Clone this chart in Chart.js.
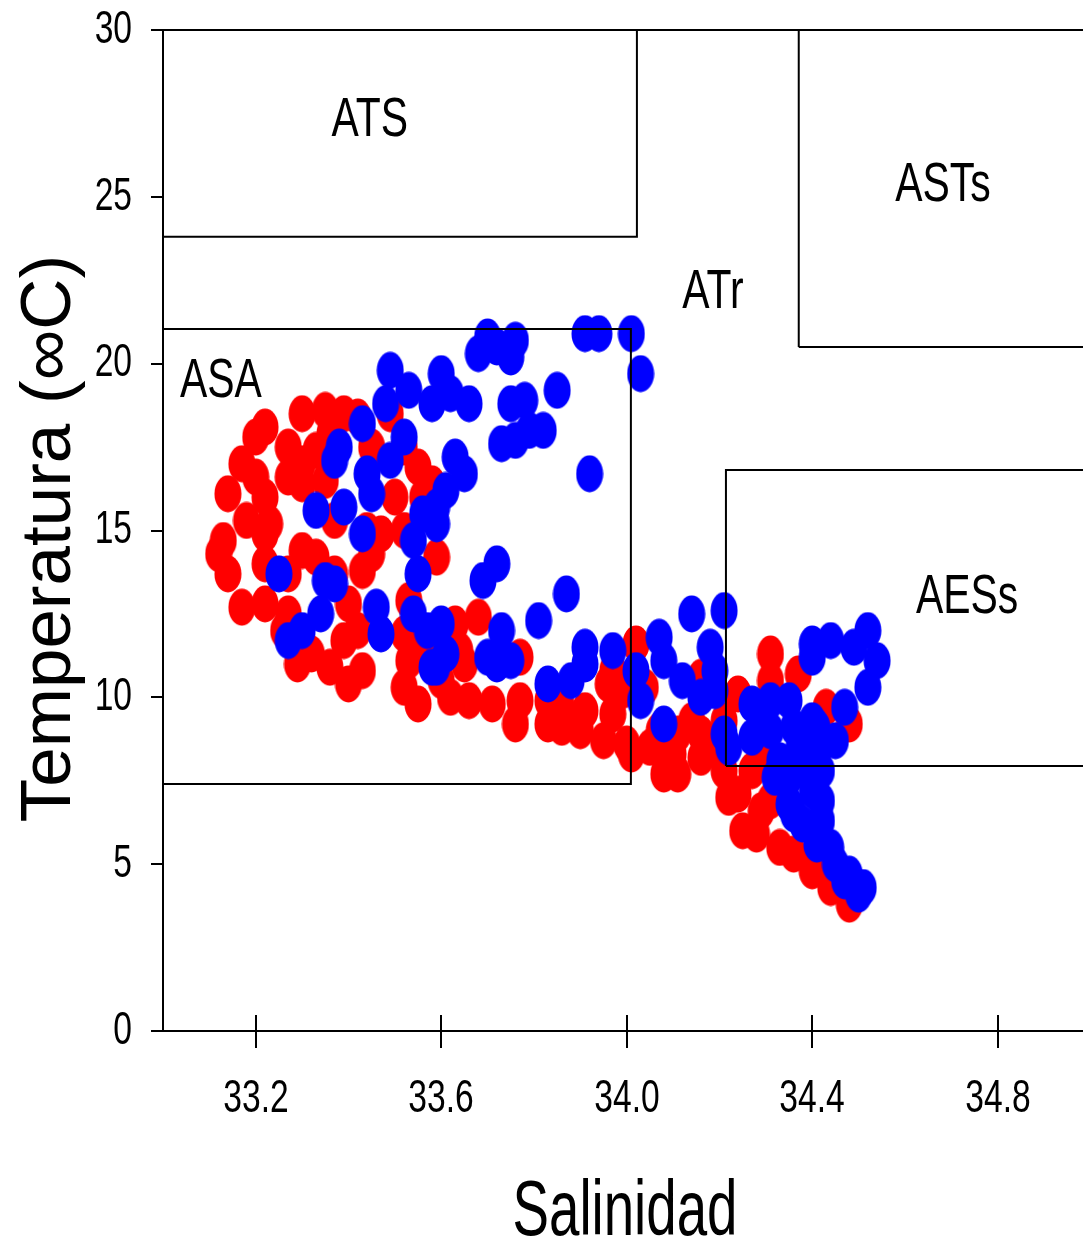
<!DOCTYPE html>
<html>
<head>
<meta charset="utf-8">
<title>Diagrama T-S</title>
<script src="https://cdn.jsdelivr.net/npm/chart.js@4.4.0/dist/chart.umd.min.js"></script>
<style>
  html, body { margin: 0; padding: 0; background: #fff; }
  canvas { display: block; }
</style>
</head>
<body>
<canvas id="ts" width="1083" height="1238"></canvas>
<script>
const sans = '"Liberation Sans", Arial, sans-serif'

const xTicks = [33.2, 33.6, 34.0, 34.4, 34.8]
const yTicks = [0, 5, 10, 15, 20, 25, 30]

// estación A (rojo)
const redSalinity = [
  33.22, 33.20, 33.17, 33.14, 33.30, 33.35, 33.27, 33.27, 33.30, 33.22,
  33.20, 33.36, 33.42, 33.45, 33.49, 33.52, 33.50, 33.55, 33.56, 33.58,
  33.39, 33.23, 33.13, 33.12, 33.14, 33.17, 33.22, 33.22, 33.27, 33.22,
  33.26, 33.29, 33.33, 33.37, 33.36, 33.40, 33.43, 33.42, 33.43, 33.45,
  33.47, 33.53, 33.52, 33.56, 33.52, 33.55, 33.40, 33.39, 33.32, 33.30,
  33.30, 33.33, 33.37, 33.35, 33.44, 33.59, 33.52, 33.68, 33.63, 33.77,
  33.62, 33.71, 33.77, 33.83, 33.86, 33.91, 33.96, 34.02, 34.04, 33.64,
  33.65, 33.66, 33.76, 33.83, 33.86, 33.90, 33.95, 34.01, 34.05, 34.08,
  34.31, 34.37, 34.31, 34.24, 34.43, 34.16, 34.11, 34.11, 34.22, 34.25,
  34.28, 34.33, 34.36, 34.40, 34.44, 34.48, 34.16, 34.19, 33.97, 34.14,
  34.16, 34.21, 34.24, 34.29, 34.21, 34.27, 34.31, 34.29, 34.48, 33.99,
  33.97, 34.00, 34.07, 34.10, 33.60, 33.53, 33.27, 33.30, 33.18
]
const redTemperature = [
  18.1, 17.8, 17.0, 16.1, 18.5, 18.6, 17.5, 16.6, 16.4, 16.0,
  16.6, 17.9, 18.4, 17.5, 18.5, 17.5, 16.0, 16.9, 16.0, 16.4,
  18.5, 15.2, 14.7, 14.3, 13.7, 12.7, 14.9, 14.0, 13.7, 12.8,
  12.0, 11.0, 14.2, 13.7, 10.9, 10.4, 10.8, 12.0, 13.8, 14.3,
  14.9, 12.9, 11.9, 11.3, 10.3, 9.8, 12.8, 11.7, 11.3, 14.4,
  17.0, 17.4, 15.3, 16.5, 15.0, 14.2, 15.0, 12.4, 12.2, 11.2,
  10.0, 9.8, 9.9, 9.9, 9.7, 9.6, 10.4, 11.6, 10.3, 11.4,
  11.0, 9.9, 9.2, 9.2, 9.1, 9.0, 8.7, 8.3, 8.5, 7.7,
  11.3, 10.7, 10.5, 10.1, 9.7, 10.6, 7.7, 8.9, 7.0, 6.0,
  5.9, 5.5, 5.3, 4.8, 4.3, 3.8, 8.2, 8.5, 9.5, 9.3,
  8.9, 7.8, 7.1, 6.6, 9.3, 7.8, 6.9, 8.1, 9.2, 10.2,
  10.8, 8.6, 9.0, 8.3, 10.5, 11.1, 12.5, 11.7, 15.3
]

// estación B (azul)
const blueSalinity = [
  33.70, 33.68, 33.76, 33.75, 33.72, 33.91, 33.94, 34.01, 34.03, 33.60,
  33.62, 33.58, 33.66, 33.85, 33.75, 33.78, 33.82, 33.79, 33.76, 33.73,
  33.92, 33.63, 33.65, 33.61, 33.59, 33.49, 33.53, 33.48, 33.43, 33.38,
  33.37, 33.44, 33.45, 33.52, 33.49, 33.33, 33.39, 33.56, 33.54, 33.55,
  33.54, 33.57, 33.58, 33.43, 33.25, 33.35, 33.37, 33.34, 33.30, 33.27,
  33.46, 33.47, 33.59, 33.72, 33.69, 33.87, 33.81, 33.73, 33.60, 33.61,
  33.59, 33.70, 33.72, 33.75, 33.91, 33.91, 33.97, 33.83, 33.88, 34.02,
  34.03, 34.07, 34.08, 34.08, 34.14, 34.21, 34.18, 34.12, 34.19, 34.19,
  34.40, 34.44, 34.49, 34.52, 34.54, 34.40, 34.52, 34.47, 34.31, 34.27,
  34.35, 34.40, 34.22, 34.27, 34.31, 34.36, 34.41, 34.45, 34.32, 34.35,
  34.40, 34.42, 34.35, 34.42, 34.38, 34.42, 34.41, 34.44, 34.45, 34.48,
  34.51, 34.50, 34.47, 34.37, 34.40, 34.33, 34.36, 34.38, 34.42, 34.16,
  34.21, 34.29
]
const blueTemperature = [
  20.8, 20.3, 20.7, 20.2, 20.5, 20.9, 20.9, 20.9, 19.7, 19.7,
  19.1, 18.8, 18.8, 19.2, 18.8, 18.9, 18.0, 18.0, 17.7, 17.6,
  16.7, 17.2, 16.7, 16.2, 15.7, 19.8, 19.2, 18.8, 18.2, 17.5,
  17.1, 16.7, 16.1, 17.8, 17.1, 15.6, 15.7, 15.5, 14.7, 13.7,
  12.5, 12.0, 10.9, 14.9, 13.7, 13.5, 13.4, 12.5, 12.0, 11.7,
  12.7, 11.9, 15.2, 14.0, 13.5, 13.1, 12.3, 12.0, 12.2, 11.3,
  10.9, 11.2, 11.0, 11.1, 11.5, 11.0, 11.4, 10.4, 10.5, 10.8,
  9.9, 11.8, 11.1, 9.2, 12.5, 12.6, 11.5, 10.5, 10.8, 10.2,
  11.6, 11.7, 11.5, 12.0, 11.1, 11.2, 10.3, 9.7, 9.9, 9.8,
  9.9, 9.3, 8.5, 8.8, 9.0, 9.1, 9.1, 8.7, 7.6, 7.6,
  7.7, 7.8, 6.8, 6.9, 6.2, 6.3, 5.6, 5.5, 5.0, 4.7,
  4.3, 4.1, 4.5, 8.4, 7.2, 8.1, 6.5, 8.1, 8.6, 10.0,
  8.9, 9.5
]

// masas de agua: límites de salinidad y temperatura de cada recuadro
const zoneNames = ['ATS', 'ASTs', 'ATr', 'ASA', 'AESs']
const zoneSalMin = [33.0, 34.371, null, 33.0, 34.214]
const zoneSalMax = [34.022, 35.3, null, 34.009, 35.3]
const zoneTempMin = [23.8, 20.5, null, 7.4, 7.94]
const zoneTempMax = [30, 30, null, 21.04, 16.81]
const zoneLabelSal = [33.446, 34.682, 34.186, 33.125, 34.734]
const zoneLabelTemp = [27.3, 25.35, 22.12, 19.45, 13.0]

function ellipseDot(color) {
  const c = document.createElement('canvas')
  c.width = 28
  c.height = 38
  const g = c.getContext('2d')
  g.fillStyle = color
  g.beginPath()
  g.ellipse(14, 19, 13.5, 18.5, 0, 0, Math.PI * 2)
  g.fill()
  return c
}

const toPoints = (xs, ys) => xs.map((v, i) => ({x: v, y: ys[i]}))

const zoneBoxes = []
zoneNames.forEach((name, i) => {
  if (zoneSalMin[i] === null) return
  zoneBoxes.push({
    label: name,
    data: [
      {x: zoneSalMin[i], y: zoneTempMin[i]},
      {x: zoneSalMax[i], y: zoneTempMin[i]},
      {x: zoneSalMax[i], y: zoneTempMax[i]},
      {x: zoneSalMin[i], y: zoneTempMax[i]},
      {x: zoneSalMin[i], y: zoneTempMin[i]}
    ],
    showLine: true,
    borderColor: '#000',
    borderWidth: 2,
    pointRadius: 0,
    fill: false,
    order: 0
  })
})

// condensed text: Liberation Sans squeezed horizontally
function narrowText(ctx, text, x, y, size, squeeze, align, baseline, angle) {
  ctx.save()
  ctx.translate(x, y)
  if (angle) ctx.rotate(angle)
  ctx.scale(squeeze, 1)
  ctx.font = size + 'px ' + sans
  ctx.textAlign = align
  ctx.textBaseline = baseline
  ctx.fillText(text, 0, 0)
  ctx.restore()
}

const frameAndLabels = {
  id: 'frameAndLabels',
  afterDraw(chart) {
    const {ctx, chartArea, scales: {x, y}} = chart
    ctx.save()
    ctx.strokeStyle = '#000'
    ctx.fillStyle = '#000'
    ctx.lineWidth = 2
    ctx.beginPath()
    ctx.moveTo(chartArea.left, chartArea.top)
    ctx.lineTo(chartArea.right, chartArea.top)
    ctx.stroke()
    // x ticks also reach up into the plot
    xTicks.forEach(v => {
      const px = Math.round(x.getPixelForValue(v))
      ctx.beginPath()
      ctx.moveTo(px, chartArea.bottom)
      ctx.lineTo(px, chartArea.bottom - 16)
      ctx.stroke()
      narrowText(ctx, v.toFixed(1), px, chartArea.bottom + 68, 46, 0.73, 'center', 'middle')
    })
    yTicks.forEach(v => {
      narrowText(ctx, String(v), chartArea.left - 31, y.getPixelForValue(v), 46, 0.73, 'right', 'middle')
    })
    zoneNames.forEach((n, i) => {
      narrowText(ctx, n, x.getPixelForValue(zoneLabelSal[i]), y.getPixelForValue(zoneLabelTemp[i]), 56, 0.73, 'center', 'middle')
    })
    // axis titles
    const midX = (chartArea.left + chartArea.right) / 2
    const midY = (chartArea.top + chartArea.bottom) / 2
    narrowText(ctx, 'Salinidad', midX + 2, chart.height - 3, 77, 0.71, 'center', 'alphabetic')
    narrowText(ctx, 'Temperatura (∞C)', 70, midY + 8, 71, 1, 'center', 'alphabetic', -Math.PI / 2)
    ctx.restore()
  }
}

new Chart('ts', {
  type: 'scatter',
  data: {
    datasets: [
      ...zoneBoxes,
      {
        label: 'B',
        data: toPoints(blueSalinity, blueTemperature),
        pointStyle: ellipseDot('#0000ff'),
        order: 1
      },
      {
        label: 'A',
        data: toPoints(redSalinity, redTemperature),
        pointStyle: ellipseDot('#ff0000'),
        order: 2
      }
    ]
  },
  options: {
    responsive: false,
    animation: false,
    devicePixelRatio: 1,
    layout: {autoPadding: false, padding: {top: 30, left: 0, right: 0, bottom: 0}},
    plugins: {
      legend: {display: false},
      tooltip: {enabled: false}
    },
    scales: {
      x: {
        type: 'linear',
        min: 33.0,
        max: 34.984,
        afterBuildTicks: s => { s.ticks = xTicks.map(v => ({value: v})) },
        afterFit: s => { s.height = 207 },
        ticks: {display: false},
        grid: {drawOnChartArea: false, tickLength: 17, lineWidth: 2, color: '#000'},
        border: {display: true, width: 2, color: '#000'}
      },
      y: {
        min: 0,
        max: 30,
        afterBuildTicks: s => { s.ticks = yTicks.map(v => ({value: v})) },
        afterFit: s => { s.width = 163 },
        ticks: {display: false},
        grid: {drawOnChartArea: false, tickLength: 12, lineWidth: 2, color: '#000'},
        border: {display: true, width: 2, color: '#000'}
      }
    }
  },
  plugins: [frameAndLabels]
})
</script>
</body>
</html>
